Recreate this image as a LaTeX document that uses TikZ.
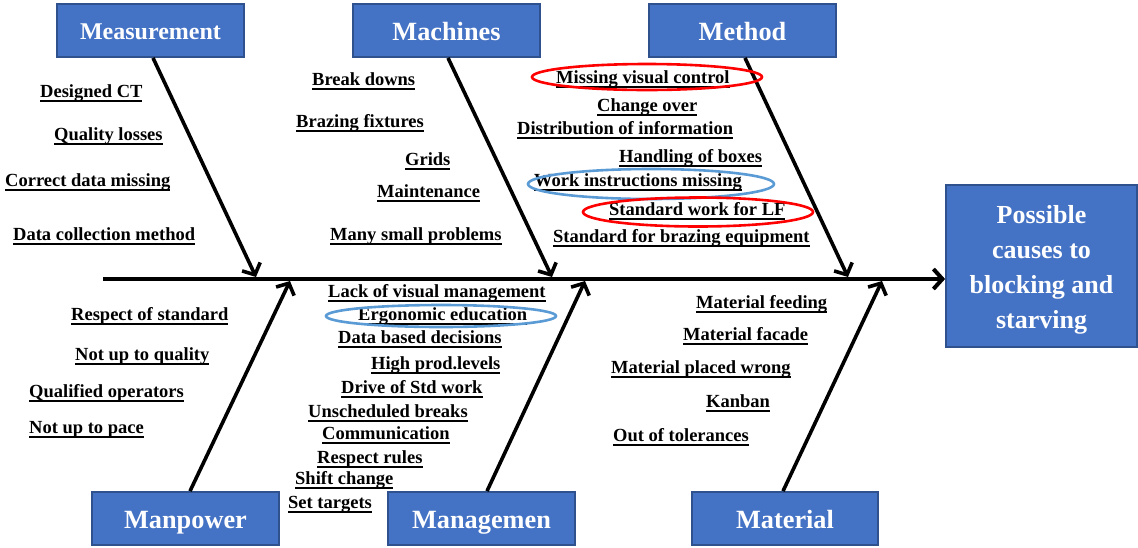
\documentclass[tikz,border=0pt]{standalone}
\usepackage{fontspec}
\setmainfont{Liberation Serif}
\usetikzlibrary{arrows.meta}
\definecolor{boxblue}{HTML}{4472C4}
\definecolor{boxedge}{HTML}{2F528F}
\definecolor{ringred}{HTML}{FF0000}
\definecolor{ringblue}{HTML}{5B9BD5}
% underlined label text, rule set a little below the descenders
\newcommand\udl[1]{\leavevmode\setbox0\hbox{#1}\rlap{\rule[-4.6pt]{\wd0}{1.6pt}}\box0}
\begin{document}
\begin{tikzpicture}[x=1pt,y=-1pt,
  catbox/.style={draw=boxedge, fill=boxblue, line width=1.8pt, text=white,
    font=\bfseries\fontsize{26.3}{30}\selectfont, minimum width=187pt, minimum height=53pt,
    inner sep=0pt, text height=20pt, text depth=0pt},
  effbox/.style={draw=boxedge, fill=boxblue, line width=1.8pt,
    minimum width=191pt, minimum height=162pt, inner sep=0pt},
  efftext/.style={text=white, font=\bfseries\fontsize{26}{35}\selectfont, align=center, inner sep=0pt},
  cause/.style={font=\bfseries\fontsize{18.5}{20}\selectfont, anchor=base west, inner sep=0pt},
  bone/.style={line width=3.6pt, -{Straight Barb[length=9pt,width=20pt,line width=3.6pt]}},
  spine/.style={line width=4pt, -{Straight Barb[length=9pt,width=20pt,line width=4pt]}},
  redring/.style={draw=ringred, line width=2.6pt},
  bluering/.style={draw=ringblue, line width=2.6pt}]
\useasboundingbox (0,0) rectangle (1138,547);

% category boxes and effect box
\node[catbox, font=\bfseries\fontsize{24}{28}\selectfont, text height=17pt] (meas) at (150.5,30.5) {Measurement};
\node[catbox] (mach) at (446.5,30.5) {Machines};
\node[catbox] (meth) at (742.5,30.5) {Method};
\node[catbox] (manp) at (185.5,518.5) {Manpower};
\node[catbox] (mgmt) at (481.5,518.5) {Managemen};
\node[catbox, minimum width=186pt, text height=19pt] (matl) at (785,518.5) {Material};
\node[effbox] (eff) at (1041.5,266) {};
\node[efftext] (efflabel) at (1041.5,269.5) {Possible\\causes to\\blocking and\\starving};

% spine
\coordinate (tail) at (103,279);
\draw[spine] (tail) -- (tail -| eff.west);

% joints on the spine
\coordinate (jmeas) at (256,277);
\coordinate (jmach) at (552,277);
\coordinate (jmeth) at (848,277);
\coordinate (jmanp) at (290,281);
\coordinate (jmgmt) at (585,281);
\coordinate (jmatl) at (882,281);

% bones
\draw[bone] ([xshift=2.5pt]meas.south) -- (jmeas);
\draw[bone] ([xshift=1.5pt]mach.south) -- (jmach);
\draw[bone] ([xshift=2.5pt]meth.south) -- (jmeth);
\draw[bone] ([xshift=4.5pt]manp.north) -- (jmanp);
\draw[bone] ([xshift=5.5pt]mgmt.north) -- (jmgmt);
\draw[bone] ([xshift=-2pt]matl.north) -- (jmatl);

% Measurement causes
\node[cause] (c11) at (40,97) {\udl{Designed CT}};
\node[cause] (c12) at (54,140) {\udl{Quality losses}};
\node[cause] (c13) at (5,186) {\udl{Correct data missing}};
\node[cause] (c14) at (13,240) {\udl{Data collection method}};

% Machines causes
\node[cause] (c21) at (312,85) {\udl{Break downs}};
\node[cause] (c22) at (296,127) {\udl{Brazing fixtures}};
\node[cause] (c23) at (405,165) {\udl{Grids}};
\node[cause] (c24) at (377,197) {\udl{Maintenance}};
\node[cause] (c25) at (330,240) {\udl{Many small problems}};

% Method causes
\node[cause] (c31) at (556,83) {\udl{Missing visual control}};
\node[cause] (c32) at (597,111) {\udl{Change over}};
\node[cause] (c33) at (517,134) {\udl{Distribution of information}};
\node[cause] (c34) at (619,162) {\udl{Handling of boxes}};
\node[cause] (c35) at (534,186) {\udl{Work instructions missing}};
\node[cause] (c36) at (609,215) {\udl{Standard work for LF}};
\node[cause] (c37) at (553,242) {\udl{Standard for brazing equipment}};

% Manpower causes
\node[cause] (c41) at (71,320) {\udl{Respect of standard}};
\node[cause] (c42) at (75,360) {\udl{Not up to quality}};
\node[cause] (c43) at (29,397) {\udl{Qualified operators}};
\node[cause] (c44) at (29,433) {\udl{Not up to pace}};

% Management causes
\node[cause] (c51) at (328,297) {\udl{Lack of visual management}};
\node[cause] (c52) at (358,320) {\udl{Ergonomic education}};
\node[cause] (c53) at (338,343) {\udl{Data based decisions}};
\node[cause] (c54) at (371,369) {\udl{High prod.levels}};
\node[cause] (c55) at (341,393) {\udl{Drive of Std work}};
\node[cause] (c56) at (308,417) {\udl{Unscheduled breaks}};
\node[cause] (c57) at (322,439) {\udl{Communication}};
\node[cause] (c58) at (317,463) {\udl{Respect rules}};
\node[cause] (c59) at (295,484) {\udl{Shift change}};
\node[cause] (c510) at (288,508) {\udl{Set targets}};

% Material causes
\node[cause] (c61) at (696,308) {\udl{Material feeding}};
\node[cause] (c62) at (683,340) {\udl{Material facade}};
\node[cause] (c63) at (611,373) {\udl{Material placed wrong}};
\node[cause] (c64) at (706,407) {\udl{Kanban}};
\node[cause] (c65) at (613,441) {\udl{Out of tolerances}};

% highlight rings
\draw[redring] (647,77) ellipse [x radius=115, y radius=13];
\draw[bluering] (651,184) ellipse [x radius=123, y radius=15];
\draw[redring] (698,212) ellipse [x radius=115, y radius=14.5];
\draw[bluering] (441,316) ellipse [x radius=115, y radius=11];
\end{tikzpicture}
\end{document}
